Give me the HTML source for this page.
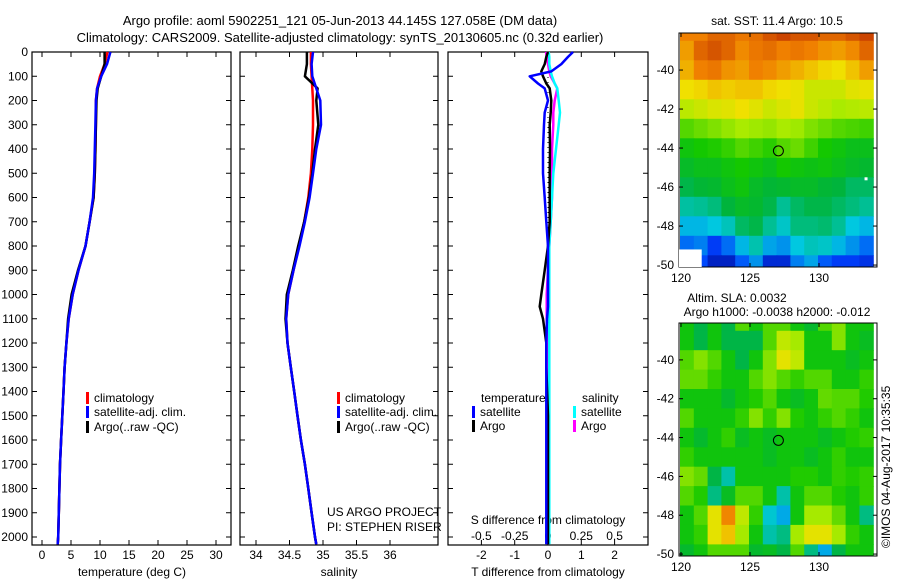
<!DOCTYPE html>
<html><head><meta charset="utf-8">
<style>
html,body{margin:0;padding:0;background:#fff;}
svg{display:block;font-family:"Liberation Sans",sans-serif;font-size:12px;}
</style></head>
<body>
<svg id="fig" width="900" height="580" viewBox="0 0 900 580">
<text x="340" y="25" text-anchor="middle" font-size="13">Argo profile: aoml 5902251_121 05-Jun-2013 44.145S 127.058E (DM data)</text>
<text x="340" y="42" text-anchor="middle" font-size="13">Climatology: CARS2009. Satellite-adjusted climatology: synTS_20130605.nc (0.32d earlier)</text>
<text x="777" y="25" text-anchor="middle">sat. SST: 11.4 Argo: 10.5</text>
<text x="737" y="302" text-anchor="middle">Altim. SLA: 0.0032</text>
<text x="777" y="316" text-anchor="middle">Argo h1000: -0.0038 h2000: -0.012</text>
<text transform="translate(890,548) rotate(-90)">©IMOS 04-Aug-2017 10:35:35</text>
<g id="maps"></g>
<g id="panels"></g>
</svg>
<script>
// ---- profile data ----
const depths = [0,50,100,150,200,300,400,500,600,700,800,900,1000,1100,1200,1300,1400,1500,1600,1700,1800,1900,2000,2030];
const climT  = [11.3,10.8,10.0,9.5,9.3,9.3,9.2,9.1,8.9,8.2,7.5,6.3,5.3,4.6,4.2,3.9,3.7,3.5,3.3,3.1,3.0,2.9,2.8,2.7];
const satT   = [11.8,11.2,10.2,9.5,9.3,9.2,9.1,9.0,8.8,8.2,7.5,6.3,5.3,4.6,4.2,3.9,3.7,3.5,3.3,3.1,3.0,2.9,2.8,2.7];
const argoT  = [10.8,10.8,10.2,9.6,9.4,9.3,9.2,9.1,8.9,8.2,7.5,6.2,5.1,4.5,4.2,3.9,3.7,3.5,3.3,3.1,3.0,2.9,2.8,2.7];
const climS  = [34.82,34.82,34.83,34.84,34.85,34.85,34.84,34.82,34.78,34.72,34.64,34.56,34.48,34.45,34.47,34.52,34.57,34.62,34.67,34.73,34.78,34.83,34.88,34.9];
const satS   = [34.85,34.83,34.84,34.9,34.96,34.97,34.9,34.85,34.8,34.73,34.65,34.56,34.48,34.45,34.47,34.52,34.57,34.62,34.67,34.73,34.78,34.83,34.88,34.9];
const argoS  = [34.76,34.76,34.73,34.92,34.9,34.93,34.88,34.84,34.79,34.72,34.63,34.55,34.46,34.44,34.47,34.52,34.57,34.62,34.67,34.73,34.78,34.83,34.88,34.9];
// ---- difference data ----
const diffDepths = [0,20,50,80,100,130,150,200,250,300,400,500,600,700,800,900,1000,1050,1100,1200,1300,1500,1700,2000,2030];
const satTdiff  = [0.75,0.6,0.4,0.1,-0.55,-0.3,-0.1,0,-0.1,-0.12,-0.15,-0.15,-0.1,-0.05,0,0,0,0,-0.03,-0.05,-0.05,-0.05,-0.05,-0.05,-0.05];
const argoTdiff = [0,-0.05,-0.1,-0.2,-0.15,-0.05,0.05,0.1,0.08,0.05,0.06,0.05,0.05,0.05,0,-0.1,-0.2,-0.25,-0.15,-0.05,-0.05,0,0,0,0];
const satSdiff  = [0.005,0.01,0.01,0.02,0.03,0.05,0.07,0.08,0.09,0.08,0.06,0.04,0.03,0.02,0.01,0.01,0.01,0.01,0.01,0.01,0.01,0.01,0.01,0.01,0.01];
const argoSdiff = [-0.015,-0.01,0,0.01,0.02,0.05,0.07,0.05,0.04,0.04,0.03,0.03,0.03,0.02,0.01,0,-0.01,-0.01,-0.01,0,0,0,0,0,0];
// ---- tick labels ----
const depthTicks = [0,100,200,300,400,500,600,700,800,900,1000,1100,1200,1300,1400,1500,1600,1700,1800,1900,2000];
const tempTicks = [0,5,10,15,20,25,30];
const salTicks = [34,34.5,35,35.5,36];
const tdTicks = [-2,-1,0,1,2];
const sdTicks = [-0.5,-0.25,0,0.25,0.5];
const sdLabels = ['-0.5','-0.25','0','0.25','0.5'];
const lonTicks = [120,125,130];
const latTicks = [-40,-42,-44,-46,-48,-50];
// ---- map data (1-degree cells centred on -38,-39,...,-50; cols from 120 east) ----
const sstGrid = [
[14.5,14.5,14.8,14.8,14.6,14.7,15,15.2,15.0,15.0,14.8,14.8,15,15.2],
[14.2,14.8,15,14.8,14.4,14.6,14.7,14.5,14.6,14.5,14.3,14.2,14.4,14.8],
[14,14.5,14.6,14.3,14.2,14.5,14.4,14.2,14.0,13.8,13.6,13.5,13.8,14.2],
[13.5,13.6,13.8,13.7,13.8,13.8,13.6,13.5,13.4,13.0,13.0,13.0,13.3,13.4],
[12.8,13.0,13.2,13.3,13.5,13.3,13.0,13.2,13.4,13.0,12.8,12.6,12.7,12.8],
[11.8,12.0,12.2,12.4,12.6,12.5,12.4,12.6,12.5,12.2,12.0,11.8,11.7,11.6],
[11.0,11.2,11.3,11.5,11.8,11.6,11.4,11.8,12.0,11.6,11.2,11.0,10.8,10.8],
[10.6,10.8,10.8,11.0,11.2,11.0,10.8,11.2,11.0,10.9,11.0,10.8,10.6,10.5],
[10.2,10.4,10.5,10.8,11.0,10.6,10.4,10.5,10.6,10.6,10.4,10.3,10.0,10.0],
[9.5,9.6,9.8,10.3,10.6,10.5,10.2,9.6,10.0,10.2,10.2,10.0,9.8,9.6],
[8.8,8.8,9.0,9.3,10.0,10.2,9.6,9.2,9.8,9.8,9.9,9.6,9.0,8.8],
[8.0,8.2,7.4,8.0,8.8,9.4,8.6,8.4,9.0,9.3,9.2,8.8,8.4,8.0],
[7.4,7.6,6.8,6.8,7.8,8.4,7.0,7.0,8.2,8.6,7.8,7.4,7.4,7.2]];
const slaGrid = [
[0,-0.05,0,-0.05,0.05,0,0.05,0.05,0,-0.03,0.05,0.08,0,0],
[0,-0.05,0,-0.05,-0.05,-0.05,0.05,0.12,0.1,0,0,0.08,0,-0.02],
[0.05,0.08,0.05,0,-0.05,0,0.08,0.15,0.12,0,0,0,-0.02,0],
[0.06,0.06,0.03,0,0,0.05,0.08,0.05,0.03,0.05,0.05,0,0,0.03],
[0,0,0,-0.03,0,0.02,0.05,0,-0.02,0,0.06,0.05,0.05,0.02],
[0.05,0,0,0,0.03,0.08,0.03,0.08,0.02,0,0.03,0.05,0.03,0],
[0,-0.03,0,0.03,-0.02,0,-0.02,0,0,0,-0.02,0,0.02,0.03],
[0.03,0,0,0,0,0,-0.02,0,0,-0.02,0,0.03,0,0],
[0.08,0.06,-0.05,-0.1,0,0,0,0,0.02,0.02,0,0.03,0.02,0.03],
[0.05,0.02,-0.08,-0.02,0.05,0.05,0,-0.1,0,0.05,0.05,0.02,0,0.03],
[0,0.05,0.15,0.22,0.12,0.03,-0.12,-0.15,0,0.1,0.1,0.06,0,-0.08],
[0,0.03,0.15,0.18,0.1,0,-0.1,-0.08,0.1,0.15,0.15,0.1,0.03,0],
[-0.03,0,0.05,0.05,0.05,-0.03,-0.02,-0.05,0.05,-0.08,-0.15,-0.05,0,0]];
const argoLon = 127.058, argoLat = -44.145;

const NS='http://www.w3.org/2000/svg';
function mk(tag, attrs, parent){const e=document.createElementNS(NS,tag);for(const k in attrs)e.setAttribute(k,attrs[k]);parent.appendChild(e);return e;}
const panels=document.getElementById('panels');
const maps=document.getElementById('maps');

const PT=52, PB=545;
const yD = d => PT + d*0.2425;
const xT = t => 42 + t*5.8;
const xS = s => 256 + (s-34)*67;
const xTD = t => 548 + t*33.3;
const xSD = s => 548 + s*133.2;

function panelBox(x0,x1,name){
  const r=mk('rect',{x:x0,y:PT,width:x1-x0,height:PB-PT,fill:'none',stroke:'#000','stroke-width':1.2},panels);
  
  
}
panelBox(32,231,'temperature-panel');
panelBox(240,438,'salinity-panel');
panelBox(448,648,'difference-panel');

depthTicks.forEach(d=>{
  const t=mk('text',{x:28,y:yD(d)+4,'text-anchor':'end'},panels);
  t.textContent=d;
  
  
  [[32,37],[226,231],[240,245],[433,438],[448,453],[643,648]].forEach(p=>{
    const l=mk('line',{x1:p[0],x2:p[1],y1:yD(d),y2:yD(d),stroke:'#000'},panels);
    
    
  });
});
function xTicks(vals,fx,labels,ly,name){
  vals.forEach((v,i)=>{
    const x=fx(v);
    [[PT,PT+5],[PB-5,PB]].forEach(p=>{
      const l=mk('line',{x1:x,x2:x,y1:p[0],y2:p[1],stroke:'#000'},panels);
      
      
    });
    if(labels){
      const t=mk('text',{x:x,y:ly,'text-anchor':'middle'},panels);
      t.textContent=labels[i];
      
      
    }
  });
}
xTicks(tempTicks,xT,tempTicks,559,'temperature');
xTicks(salTicks,xS,salTicks,559,'salinity');
xTicks(tdTicks,xTD,tdTicks,559,'t-difference');
sdTicks.forEach((v,i)=>{
  const t=mk('text',{x:xSD(v),y:540,'text-anchor':'middle'},panels);
  t.textContent=sdLabels[i];
  
  
});
function label(x,y,txt,name,anchor){
  const t=mk('text',{x:x,y:y,'text-anchor':anchor||'start'},panels);
  t.textContent=txt;
  
  
  return t;
}
label(132,576,'temperature (deg C)','temperature-axis-title','middle');
label(339,576,'salinity','salinity-axis-title','middle');
label(548,576,'T difference from climatology','t-difference-axis-title','middle');
label(548,524,'S difference from climatology','s-difference-axis-title','middle');
label(327,516,'US ARGO PROJECT','project-label');
label(327,531,'PI: STEPHEN RISER','pi-label');

const zl=mk('line',{x1:xTD(0),x2:xTD(0),y1:PT,y2:PB,stroke:'#000','stroke-dasharray':'1 4'},panels);



function profile(xs,ys,fx,color,name){
  const pts=xs.map((v,i)=>fx(v).toFixed(1)+','+yD(ys[i]).toFixed(1)).join(' ');
  const p=mk('polyline',{points:pts,fill:'none',stroke:color,'stroke-width':2.5,'stroke-linejoin':'round'},panels);
  
  
}
profile(climT,depths,xT,'#ff0000','climatology-temperature-line');
profile(argoT,depths,xT,'#000000','argo-temperature-line');
profile(satT,depths,xT,'#0000ff','satellite-temperature-line');
profile(climS,depths,xS,'#ff0000','climatology-salinity-line');
profile(argoS,depths,xS,'#000000','argo-salinity-line');
profile(satS,depths,xS,'#0000ff','satellite-salinity-line');
profile(argoSdiff,diffDepths,xSD,'#ff00ff','argo-salinity-difference-line');
profile(satSdiff,diffDepths,xSD,'#00ffff','satellite-salinity-difference-line');
profile(argoTdiff,diffDepths,xTD,'#000000','argo-temperature-difference-line');
profile(satTdiff,diffDepths,xTD,'#0000ff','satellite-temperature-difference-line');

function legendEntry(x,y,color,txt,name){
  const r=mk('rect',{x:x,y:y-10,width:3,height:12,fill:color},panels);
  
  
  label(x+8,y,txt,name);
}
legendEntry(86,402,'#ff0000','climatology','legend-climatology');
legendEntry(86,416,'#0000ff','satellite-adj. clim.','legend-satellite');
legendEntry(86,431,'#000000','Argo(..raw -QC)','legend-argo');
legendEntry(337,402,'#ff0000','climatology','legend-climatology-sal');
legendEntry(337,416,'#0000ff','satellite-adj. clim.','legend-satellite-sal');
legendEntry(337,431,'#000000','Argo(..raw -QC)','legend-argo-sal');
label(481,402,'temperature','legend-temperature-heading');
label(582,402,'salinity','legend-salinity-heading');
legendEntry(472,416,'#0000ff','satellite','legend-t-satellite');
legendEntry(472,430,'#000000','Argo','legend-t-argo');
legendEntry(573,416,'#00ffff','satellite','legend-s-satellite');
legendEntry(573,430,'#ff00ff','Argo','legend-s-argo');

const stops=[[0,[0,0,127]],[0.15,[0,64,255]],[0.3,[0,200,224]],[0.43,[0,180,60]],[0.52,[20,200,0]],[0.66,[170,235,0]],[0.75,[240,224,0]],[0.85,[240,128,0]],[1,[160,0,0]]];
function cmap(v){
  v=Math.max(0,Math.min(1,v));
  for(let i=1;i<stops.length;i++){
    if(v<=stops[i][0]){
      const a=stops[i-1],b=stops[i],f=(v-a[0])/(b[0]-a[0]);
      const c=a[1].map((q,k)=>Math.round(q+(b[1][k]-q)*f));
      return 'rgb('+c.join(',')+')';
    }
  }
  return 'rgb(160,0,0)';
}

function drawMap(top,bottom,grid,vmin,vmax,name){
  const L=679,R=877;
  const xL=lon=>681+(lon-120)*13.8;
  const yL=lat=>top+(-38.1-lat)*((bottom-top)/(50.1-38.1));
  const cid='clip-'+name;
  const cp=mk('clipPath',{id:cid},maps);
  mk('rect',{x:L,y:top,width:R-L,height:bottom-top},cp);
  const g=mk('g',{'clip-path':'url(#'+cid+')'},maps);
  
  
  grid.forEach((row,i)=>{
    row.forEach((v,j)=>{
      const lat0=-37.5-i, lon0=120+j;
      const x0=xL(lon0)-1, y0=yL(lat0);
      const c=mk('rect',{x:x0.toFixed(1),y:y0.toFixed(1),width:(xL(lon0+1)-xL(lon0)+0.6).toFixed(1),height:(yL(lat0-1)-y0+0.6).toFixed(1),fill:cmap((v-vmin)/(vmax-vmin))},g);
      
      
    });
  });
  const b=mk('rect',{x:L,y:top,width:R-L,height:bottom-top,fill:'none',stroke:'#000'},maps);
  
  
  lonTicks.forEach(lon=>{
    const x=xL(lon);
    [[top,top+4],[bottom-4,bottom]].forEach(p=>{
      const l=mk('line',{x1:x,x2:x,y1:p[0],y2:p[1],stroke:'#000'},maps);
      
      
    });
    const t=mk('text',{x:x,y:bottom+15,'text-anchor':'middle'},maps);
    t.textContent=lon;
    
    
  });
  latTicks.forEach(lat=>{
    const y=yL(lat);
    [[L,L+4],[R-4,R]].forEach(p=>{
      const l=mk('line',{x1:p[0],x2:p[1],y1:y,y2:y,stroke:'#000'},maps);
      
      
    });
    const t=mk('text',{x:674,y:y+4,'text-anchor':'end'},maps);
    t.textContent=lat;
    
    
  });
  const m=mk('circle',{cx:xL(argoLon),cy:yL(argoLat),r:5,fill:'none',stroke:'#000'},maps);
  
  
  return {xL,yL};
}
const m1=drawMap(33,267,sstGrid,6,16,'sst-map');
const w1=mk('rect',{x:679,y:m1.yL(-49.2),width:m1.xL(121.5)-679,height:267-m1.yL(-49.2),fill:'#fff'},maps);


const w2=mk('rect',{x:m1.xL(133.3),y:m1.yL(-45.5),width:3,height:3,fill:'#fff'},maps);


drawMap(323,556,slaGrid,-0.32,0.32,'sla-map');
</script>
</body></html>
